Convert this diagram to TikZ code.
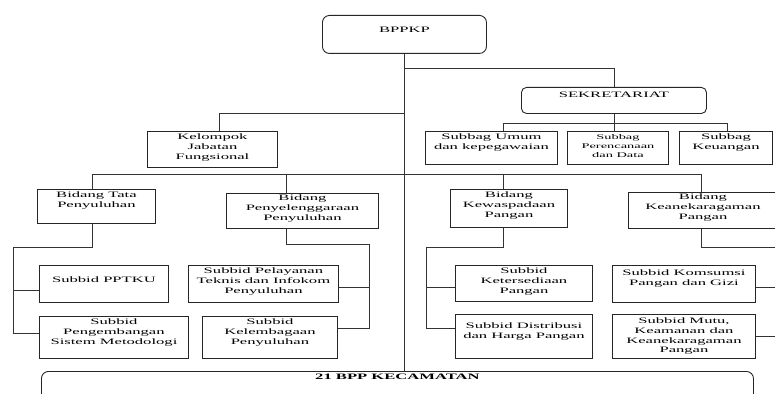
\documentclass[tikz,border=0pt]{standalone}
\usepackage{fontspec}
\setmainfont{Liberation Serif}[FakeStretch=2]
\usepackage{tikz}
\usetikzlibrary{positioning}
\tikzset{
    box/.style={draw=black!85, line width=0.9pt, anchor=north west, inner sep=0pt},
    rbox/.style={box, rounded corners=7pt},
    lbl/.style={anchor=north, align=center, inner sep=3pt,
        font=\fontsize{8.3}{9.6}\selectfont},
    line/.style={draw=black!80, line width=0.9pt}
}

\begin{document}
\begin{tikzpicture}[x=1pt,y=-1pt]
    \useasboundingbox (0,0) rectangle (775,393);
    \clip (0,0) rectangle (775,393);

    % top level
    \node[rbox, minimum width=164pt, minimum height=38pt,
        label={[lbl,yshift=-9pt]north:BPPKP}] (bppkp) at (322,15) {};
    \node[rbox, rounded corners=5pt, minimum width=185pt, minimum height=26pt,
        label={[lbl,yshift=-2pt]north:SEKRETARIAT}] (sekre) at (521,87) {};
    \node[box, minimum width=130pt, minimum height=36pt,
        label={[lbl]north:{Kelompok\\Jabatan\\Fungsional}}] (kel) at (147,131) {};

    % subbag
    \node[box, minimum width=132pt, minimum height=33pt,
        label={[lbl]north:{Subbag Umum\\dan kepegawaian}}] (umum) at (425,131) {};
    \node[box, minimum width=101pt, minimum height=33pt,
        label={[lbl,font=\fontsize{7.2}{9}\selectfont]north:{Subbag\\Perencanaan\\dan Data}}] (ren) at (567,131) {};
    \node[box, minimum width=93pt, minimum height=33pt,
        label={[lbl]north:{Subbag\\Keuangan}}] (keu) at (679,131) {};

    % bidang
    \node[box, minimum width=118pt, minimum height=34pt,
        label={[lbl]north:{Bidang Tata\\Penyuluhan}}] (tata) at (37,189) {};
    \node[box, minimum width=152pt, minimum height=35pt,
        label={[lbl,yshift=1pt]north:{Bidang\\Penyelenggaraan\\Penyuluhan}}] (peny) at (226,193) {};
    \node[box, minimum width=117pt, minimum height=38pt,
        label={[lbl]north:{Bidang\\Kewaspadaan\\Pangan}}] (kew) at (450,189) {};
    \node[box, minimum width=149pt, minimum height=36pt,
        label={[lbl,yshift=1pt]north:{Bidang\\Keanekaragaman\\Pangan}}] (kean) at (628,192) {};

    % subbid
    \node[box, minimum width=129pt, minimum height=37pt,
        label={[lbl,yshift=-9pt]north:Subbid PPTKU}] (pptku) at (39,265) {};
    \node[box, minimum width=149pt, minimum height=42pt,
        label={[lbl]north:{Subbid\\Pengembangan\\Sistem Metodologi}}] (peng) at (39,316) {};
    \node[box, minimum width=150pt, minimum height=37pt,
        label={[lbl]north:{Subbid Pelayanan\\Teknis dan Infokom\\Penyuluhan}}] (pel) at (188,265) {};
    \node[box, minimum width=135pt, minimum height=42pt,
        label={[lbl]north:{Subbid\\Kelembagaan\\Penyuluhan}}] (keleb) at (202,316) {};
    \node[box, minimum width=137pt, minimum height=36pt,
        label={[lbl]north:{Subbid\\Ketersediaan\\Pangan}}] (keter) at (455,265) {};
    \node[box, minimum width=137pt, minimum height=44pt,
        label={[lbl,yshift=-6pt]north:{Subbid Distribusi\\dan Harga Pangan}}] (distr) at (455,314) {};
    \node[box, minimum width=143pt, minimum height=37pt,
        label={[lbl,yshift=-2pt]north:{Subbid Komsumsi\\Pangan dan Gizi}}] (kons) at (612,265) {};
    \node[box, minimum width=143pt, minimum height=44pt,
        label={[lbl,yshift=-1pt]north:{Subbid Mutu,\\Keamanan dan\\Keanekaragaman\\Pangan}}] (mutu) at (612,314) {};

    \node[rbox, minimum width=712pt, minimum height=40pt,
        label={[lbl,font=\fontsize{8.3}{9.6}\selectfont\bfseries]north:21 BPP KECAMATAN}] (bpp) at (41,371) {};

    % junctions
    \coordinate (jsek) at (404,68);
    \coordinate (jkel) at (404,113);
    \coordinate (s1) at (503,123);
    \coordinate (s2) at (727,123);
    \coordinate (b1) at (92,174);
    \coordinate (b2) at (286,174);
    \coordinate (b3) at (503,174);
    \coordinate (b4) at (701,174);
    \coordinate (t1) at (92,247);
    \coordinate (ta) at (13,290);
    \coordinate (tb) at (13,333);
    \coordinate (p1) at (286,244);
    \coordinate (pa) at (369,287);
    \coordinate (pb) at (369,328);
    \coordinate (k1) at (503,247);
    \coordinate (ka) at (426,287);
    \coordinate (kb) at (426,328);
    \coordinate (n1) at (701,247);
    \coordinate (na) at (779,287);
    \coordinate (nb) at (779,336);

    % connectors
    \draw[line] (bppkp.south) -- (bpp.north -| bppkp.south);
    \draw[line] (jsek) -| (sekre.north);
    \draw[line] (jkel) -| ([xshift=7pt]kel.north);
    \draw[line] (sekre.south) -- (sekre.south |- ren.north);
    \draw[line] (s1) -- (s2);
    \draw[line] (s1) -- (s1 |- umum.north);
    \draw[line] (s2) -- (s2 |- keu.north);

    \draw[line] (b1) -- (b4);
    \foreach \j/\n in {b1/tata,b2/peny,b3/kew,b4/kean}
        \draw[line] (\j) -- (\j |- \n.north);

    \draw[line] (t1 |- tata.south) -- (t1) -| (tb) -- (tb -| peng.west);
    \draw[line] (ta) -- (ta -| pptku.west);

    \draw[line] (p1 |- peny.south) -- (p1) -| (pb) -- (pb -| keleb.east);
    \draw[line] (pa) -- (pa -| pel.east);

    \draw[line] (k1 |- kew.south) -- (k1) -| (kb) -- (kb -| distr.west);
    \draw[line] (ka) -- (ka -| keter.west);

    \draw[line] (n1 |- kean.south) -- (n1) -| (nb) -- (nb -| mutu.east);
    \draw[line] (na) -- (na -| kons.east);
\end{tikzpicture}
\end{document}
